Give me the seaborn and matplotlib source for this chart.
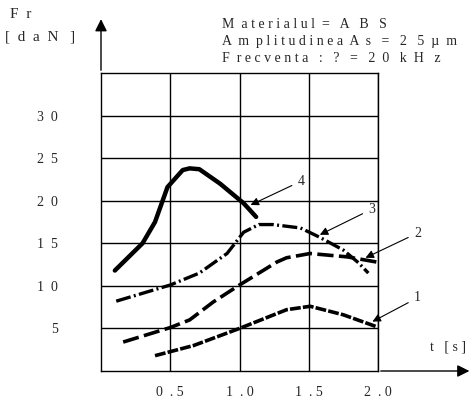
import matplotlib
matplotlib.use('Agg')
import matplotlib.pyplot as plt
import seaborn as sns
import pandas as pd

# curve data (t [s], Fr [daN])
t1 = [0.39, 0.67, 1.00, 1.34, 1.51, 1.75, 1.99]
f1 = [1.8, 3.0, 5.0, 7.2, 7.6, 6.6, 5.2]
t2 = [0.16, 0.50, 0.64, 0.81, 1.00, 1.15, 1.27, 1.34, 1.51, 1.78, 1.99]
f2 = [3.4, 5.1, 6.0, 8.1, 10.1, 11.6, 12.8, 13.3, 13.8, 13.4, 12.8]
t3 = [0.11, 0.50, 0.71, 0.84, 0.91, 1.03, 1.14, 1.24, 1.44, 1.58, 1.75, 1.86, 1.93]
f3 = [8.2, 10.1, 11.5, 13.0, 13.8, 16.3, 17.2, 17.2, 16.8, 15.7, 14.2, 12.7, 11.5]
t4 = [0.10, 0.30, 0.39, 0.48, 0.59, 0.64, 0.71, 0.86, 1.03, 1.12]
f4 = [11.8, 15.0, 17.5, 21.6, 23.6, 23.8, 23.7, 22.0, 19.7, 18.1]

x_ticks = [0.5, 1.0, 1.5, 2.0]
x_labels = ['0  . 5', '1  . 0', '1  . 5', '2  . 0']
y_ticks = [5, 10, 15, 20, 25, 30]
y_labels = ['5', '1  0', '1  5', '2  0', '2  5', '3  0']

curve_names = ['1', '2', '3', '4']
# arrow tip (on curve) and label position for each curve number
tips = {'1': (1.96, 5.8), '2': (1.91, 13.3), '3': (1.58, 16.0), '4': (1.08, 19.5)}
label_pos = {'1': (2.26, 8.6), '2': (2.26, 16.2), '3': (1.93, 19.0), '4': (1.42, 22.3)}

rows = []
for name, ts, fs in zip(curve_names, [t1, t2, t3, t4], [f1, f2, f3, f4]):
    for t, f in zip(ts, fs):
        rows.append({'t': t, 'F': f, 'curve': name})
df = pd.DataFrame(rows)

sns.set_style('white')
plt.rcParams['font.family'] = ['Liberation Serif', 'DejaVu Serif']

fig = plt.figure(figsize=(4.72, 4.03), dpi=100)
ax = fig.add_axes([101 / 472, 1 - 371 / 403, 277 / 472, 298 / 403])

dashes = {'1': (3, 0.6), '2': (4.5, 1.5), '3': (4.5, 1.0, 0.6, 1.0), '4': ''}
widths = {'1': 2.6, '2': 2.6, '3': 2.4, '4': 3.2}
for name in curve_names:
    sub = df[df['curve'] == name]
    sns.lineplot(data=sub, x='t', y='F', color='black', lw=widths[name],
                 estimator=None, sort=False, ax=ax, legend=False)
    if dashes[name]:
        ax.lines[-1].set_dashes(dashes[name])

ax.set_xlim(0, 2.0)
ax.set_ylim(0, 35)
ax.set_xticks(x_ticks)
ax.set_xticklabels(x_labels, fontsize=10)
ax.set_yticks(y_ticks)
ax.set_yticklabels(y_labels, fontsize=10)
ax.tick_params(axis='x', length=0, pad=11)
ax.tick_params(axis='y', length=0, pad=31)
ax.grid(True, color='black', lw=1)
for s in ax.spines.values():
    s.set_color('black')
    s.set_linewidth(1)
ax.set_xlabel('')
ax.set_ylabel('')

# axis arrows
ax.annotate('', xy=(0, 1.19), xytext=(0, 1.0), xycoords='axes fraction',
            arrowprops=dict(arrowstyle='-|>', color='black', lw=1, mutation_scale=18))
ax.annotate('', xy=(1.34, 0), xytext=(1.0, 0), xycoords='axes fraction',
            arrowprops=dict(arrowstyle='-|>', color='black', lw=1, mutation_scale=18))

for name in curve_names:
    ax.annotate(name, xy=tips[name], xytext=label_pos[name], fontsize=10,
                ha='left', va='center', annotation_clip=False,
                arrowprops=dict(arrowstyle='-|>', color='black', lw=0.8,
                                mutation_scale=12, shrinkA=2, shrinkB=0))

fig.text(10 / 472, 1 - 14 / 403, 'F  r', fontsize=11, va='center')
fig.text(5 / 472, 1 - 37 / 403, '[  d  a  N   ]', fontsize=11, va='center')
fig.text(222 / 472, 1 - 25 / 403, 'M  a t e r i a l u l  =   A   B   S', fontsize=10, va='center')
fig.text(222 / 472, 1 - 41 / 403, 'A  m  p l i t u d i n e a  A  s   =   2   5  µ  m', fontsize=10, va='center')
fig.text(222 / 472, 1 - 58 / 403, 'F  r e c v e n t a   :   ?   =   2  0   k  H   z', fontsize=10, va='center')
fig.text(430 / 472, 1 - 347 / 403, 't   [ s ]', fontsize=10, va='center')

fig.savefig('out.png', dpi=100)
